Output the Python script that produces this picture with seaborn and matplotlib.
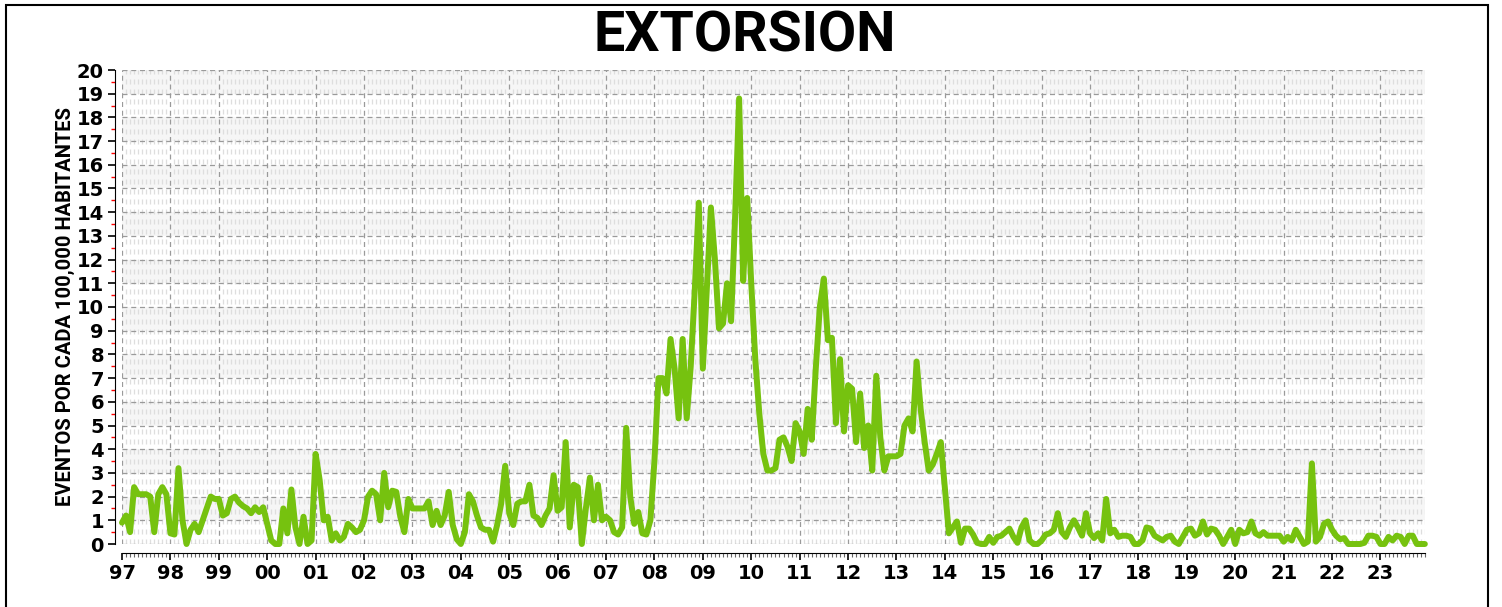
import pandas as pd
import matplotlib
matplotlib.use("Agg")
import matplotlib.pyplot as plt
import seaborn as sns
from matplotlib.ticker import MultipleLocator
from matplotlib.patches import Rectangle

# Chart text
title = "EXTORSION"
ylabel = "EVENTOS POR CADA 100,000 HABITANTES"

# Years shown on the x axis and their labels
years = list(range(1997, 2024))
year_labels = [f"{y % 100:02d}" for y in years]

# Monthly rates (Jan..Dec)
y1997 = [0.9, 1.2, 0.5, 2.4, 2.1, 2.1, 2.1, 2.0, 0.5, 2.1, 2.4, 2.1]
y1998 = [0.45, 0.4, 3.2, 1.0, 0.0, 0.6, 0.85, 0.5, 1.0, 1.5, 2.0, 1.9]
y1999 = [1.9, 1.2, 1.3, 1.9, 2.0, 1.75, 1.6, 1.5, 1.3, 1.55, 1.35, 1.55]
y2000 = [0.85, 0.15, 0.0, 0.0, 1.5, 0.45, 2.3, 0.7, 0.0, 1.15, 0.0, 0.15]
y2001 = [3.8, 2.7, 1.0, 1.15, 0.15, 0.45, 0.15, 0.3, 0.85, 0.7, 0.5, 0.6]
y2002 = [1.0, 2.0, 2.25, 2.1, 1.0, 3.0, 1.55, 2.25, 2.2, 1.15, 0.5, 1.9]
y2003 = [1.5, 1.5, 1.5, 1.5, 1.8, 0.8, 1.4, 0.8, 1.2, 2.2, 0.8, 0.2]
y2004 = [0.0, 0.5, 2.1, 1.8, 1.2, 0.7, 0.6, 0.6, 0.1, 0.8, 1.7, 3.3]
y2005 = [1.3, 0.8, 1.7, 1.8, 1.8, 2.5, 1.2, 1.1, 0.8, 1.2, 1.5, 2.9]
y2006 = [1.4, 1.55, 4.3, 0.7, 2.5, 2.4, 0.0, 1.5, 2.8, 1.0, 2.5, 1.0]
y2007 = [1.15, 1.0, 0.5, 0.4, 0.7, 4.9, 2.0, 0.85, 1.35, 0.45, 0.4, 1.0]
y2008 = [3.5, 7.0, 7.0, 6.35, 8.65, 7.4, 5.3, 8.65, 5.3, 7.5, 10.7, 14.4]
y2009 = [7.4, 10.8, 14.2, 12.0, 9.1, 9.3, 11.0, 9.4, 13.8, 18.8, 11.1, 14.6]
y2010 = [11.0, 7.8, 5.5, 3.8, 3.1, 3.1, 3.2, 4.4, 4.5, 4.1, 3.5, 5.1]
y2011 = [4.75, 3.8, 5.7, 4.4, 7.4, 10.0, 11.2, 8.6, 8.7, 5.1, 7.8, 4.75]
y2012 = [6.7, 6.55, 4.3, 6.35, 4.05, 5.0, 3.1, 7.1, 4.5, 3.1, 3.7, 3.7]
y2013 = [3.7, 3.8, 5.0, 5.3, 4.75, 7.7, 5.7, 4.3, 3.1, 3.35, 3.8, 4.3]
y2014 = [2.4, 0.45, 0.7, 0.95, 0.05, 0.65, 0.65, 0.4, 0.05, 0.0, 0.0, 0.3]
y2015 = [0.05, 0.3, 0.35, 0.5, 0.65, 0.3, 0.05, 0.7, 1.0, 0.15, 0.0, 0.0]
y2016 = [0.15, 0.4, 0.45, 0.6, 1.3, 0.5, 0.3, 0.7, 1.0, 0.7, 0.35, 1.3]
y2017 = [0.45, 0.25, 0.45, 0.15, 1.9, 0.45, 0.6, 0.3, 0.35, 0.35, 0.3, 0.0]
y2018 = [0.0, 0.15, 0.7, 0.65, 0.35, 0.25, 0.15, 0.3, 0.35, 0.1, 0.0, 0.3]
y2019 = [0.6, 0.65, 0.35, 0.45, 0.95, 0.4, 0.65, 0.6, 0.35, 0.0, 0.3, 0.6]
y2020 = [0.0, 0.6, 0.45, 0.5, 0.95, 0.45, 0.35, 0.5, 0.35, 0.35, 0.35, 0.35]
y2021 = [0.1, 0.3, 0.15, 0.6, 0.3, 0.0, 0.1, 3.4, 0.1, 0.3, 0.85, 0.95]
y2022 = [0.6, 0.35, 0.2, 0.25, 0.0, 0.0, 0.0, 0.0, 0.05, 0.35, 0.35, 0.3]
y2023 = [0.0, 0.0, 0.3, 0.15, 0.35, 0.3, 0.0, 0.35, 0.35, 0.0, 0.0, 0.0]

by_year = [y1997, y1998, y1999, y2000, y2001, y2002, y2003, y2004, y2005,
           y2006, y2007, y2008, y2009, y2010, y2011, y2012, y2013, y2014,
           y2015, y2016, y2017, y2018, y2019, y2020, y2021, y2022, y2023]

df = pd.DataFrame({
    "t": [y + m / 12 for y in years for m in range(12)],
    "tasa": [v for vals in by_year for v in vals],
})

sns.set_style("white")
fig = plt.figure(figsize=(15.02, 6.07), dpi=100)
ax = fig.add_axes([122 / 1502, 1 - 544 / 607, (1425 - 122) / 1502, (544 - 70) / 607])

# light alternating bands
for lo in range(1, 20, 2):
    ax.axhspan(lo, lo + 1, color="#f6f6f6", zorder=0, lw=0)

sns.lineplot(data=df, x="t", y="tasa", color="#76c20f", linewidth=4.3,
             ax=ax, clip_on=False, zorder=3)

ax.set_xlim(1997, 2023.92)
ax.set_ylim(0, 20)
ax.set_xticks(years)
ax.set_xticklabels(year_labels)
ax.xaxis.set_minor_locator(MultipleLocator(1 / 12))
ax.set_yticks(range(0, 21))
ax.yaxis.set_minor_locator(MultipleLocator(0.5))

ax.set_axisbelow(True)
ax.grid(which="major", axis="both", color="#9a9a9a", linestyle=(0, (4, 3)), linewidth=0.9)
ax.grid(which="minor", axis="x", color="#dedede", linestyle=(0, (4, 4)), linewidth=0.9)

sns.despine(ax=ax, offset={"left": 5, "bottom": 6.5})
ax.spines["left"].set_color("black")
ax.spines["bottom"].set_color("black")

ax.tick_params(axis="both", which="major", length=5, width=1.2, color="black",
               labelcolor="black", labelsize=14, pad=3, left=True, bottom=True)
ax.tick_params(axis="y", which="minor", length=3, width=1, color="red", left=True)
ax.tick_params(axis="x", which="minor", length=3, width=0.8, color="#666666", bottom=True)
for lab in ax.get_xticklabels() + ax.get_yticklabels():
    lab.set_fontweight("bold")

ax.set_xlabel("")
ax.set_ylabel(ylabel, fontsize=14.5, fontweight="bold", family="Roboto", color="black")
ax.yaxis.set_label_coords(-0.036, 0.5)

fig.text(745 / 1502, 1 - 37 / 607, title, ha="center", va="center",
         fontsize=40, fontweight="bold", family="Roboto", color="black")

# frame around the figure
fig.patches.append(Rectangle((6 / 1502, -0.05), (1488 - 6) / 1502, 1.05 - 5 / 607,
                             transform=fig.transFigure, fill=False,
                             edgecolor="black", linewidth=1.5))

fig.savefig("out.png", dpi=100)
